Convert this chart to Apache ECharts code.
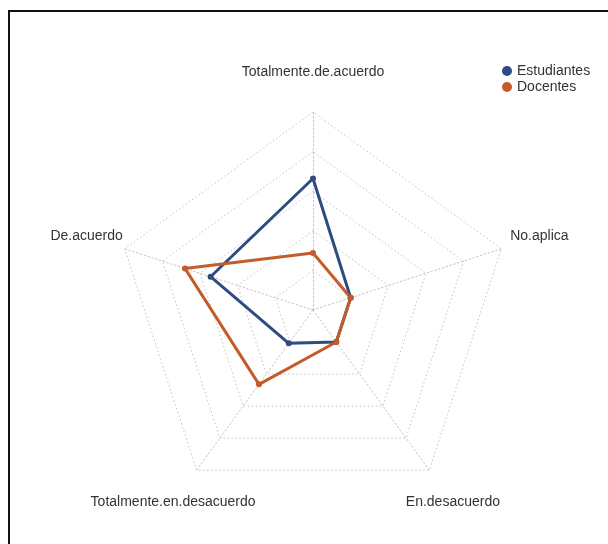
<!DOCTYPE html>
<html>
<head>
<meta charset="utf-8">
<script src="https://cdn.jsdelivr.net/npm/echarts@6/dist/echarts.min.js"></script>
<style>
html,body{margin:0;padding:0;background:#fff;}
#frame{position:absolute;left:8px;top:10px;width:620px;height:560px;border-left:2px solid #111;border-top:2px solid #111;box-sizing:border-box;}
#chart{position:absolute;left:0;top:0;width:608px;height:544px;}
</style>
</head>
<body>
<div id="frame"></div>
<div id="chart"></div>
<script>
// Axis categories (in ECharts' counter-clockwise drawing order, starting at top)
var categories = ['Totalmente.de.acuerdo', 'De.acuerdo', 'Totalmente.en.desacuerdo', 'En.desacuerdo', 'No.aplica'];
var seriesNames = ['Estudiantes', 'Docentes'];
// Percentages
var estudiantes = [58, 43, 1, 0, 0];
var docentes = [11, 60, 33, 0, 0];
var colors = ['#2E4C82', '#C45B2B'];
var axisMin = -25;   // centre of the web (innermost ring = 0)
var axisMax = 100;

var chart = echarts.init(document.getElementById('chart'), null, {renderer: 'canvas'});
chart.setOption({
  animation: false,
  backgroundColor: 'transparent',
  legend: {
    data: seriesNames,
    orient: 'vertical',
    left: 497,
    top: 59,
    icon: 'circle',
    itemWidth: 10,
    itemHeight: 10,
    itemGap: 2,
    textStyle: {fontFamily: 'Liberation Sans, Arial, sans-serif', fontSize: 14, color: '#333'}
  },
  radar: {
    center: [313, 310],
    radius: 198,
    splitNumber: 5,
    shape: 'polygon',
    indicator: categories.map(function (c) { return {name: c, min: axisMin, max: axisMax}; }),
    axisNameGap: 40,
    axisName: {
      color: '#333',
      fontFamily: 'Liberation Sans, Arial, sans-serif',
      fontSize: 14,
      align: 'center',
      verticalAlign: 'middle'
    },
    axisLine: {lineStyle: {color: '#c2c2c2', type: [1.5, 2.5], width: 1}},
    splitLine: {lineStyle: {color: '#c2c2c2', type: [1.5, 2.5], width: 1}},
    splitArea: {show: false},
    axisTick: {show: false},
    axisLabel: {show: false}
  },
  series: [{
    type: 'radar',
    symbol: 'circle',
    symbolSize: 6,
    data: [
      {name: seriesNames[0], value: estudiantes,
       itemStyle: {color: colors[0]}, lineStyle: {color: colors[0], width: 3}},
      {name: seriesNames[1], value: docentes,
       itemStyle: {color: colors[1]}, lineStyle: {color: colors[1], width: 3}}
    ]
  }]
});
</script>
</body>
</html>
